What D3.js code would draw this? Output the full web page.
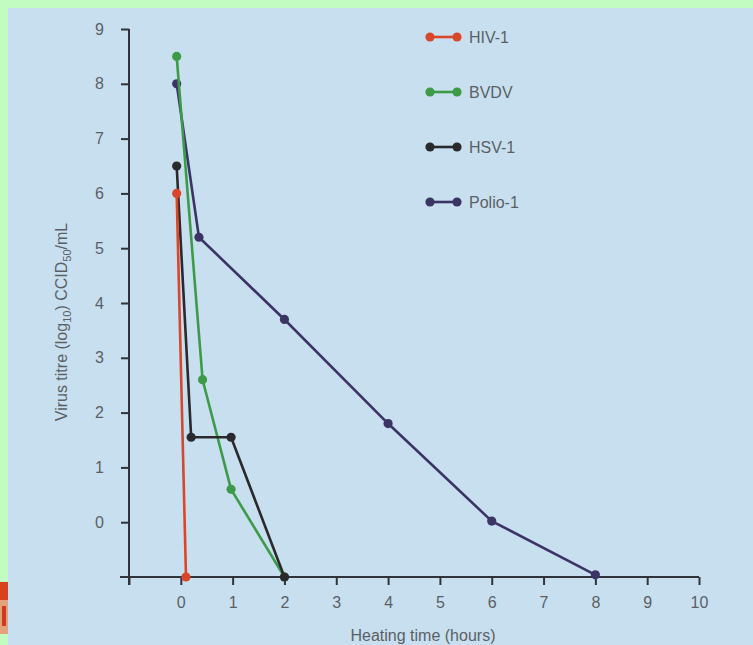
<!DOCTYPE html>
<html>
<head>
<meta charset="utf-8">
<script src="https://cdn.jsdelivr.net/npm/d3@7"></script>
<style>
  html, body { margin: 0; padding: 0; background: #c3fcc0; }
  svg { display: block; }
</style>
</head>
<body>
<div id="chart"></div>
<script>
// Virus inactivation by heating
const hivTime = [-0.08, 0.1];
const hivTitre = [6, -1];

const bvdvTime = [-0.08, 0.42, 0.97, 2];
const bvdvTitre = [8.5, 2.6, 0.6, -1];

const hsvTime = [-0.08, 0.2, 0.97, 2];
const hsvTitre = [6.5, 1.55, 1.55, -1];

const polioTime = [-0.08, 0.35, 2, 4, 6, 8];
const polioTitre = [8, 5.2, 3.7, 1.8, 0.02, -0.96];

const xTicks = [-1, 0, 1, 2, 3, 4, 5, 6, 7, 8, 9, 10];
const xTickLabels = ["", "0", "1", "2", "3", "4", "5", "6", "7", "8", "9", "10"];
const yTicks = [0, 1, 2, 3, 4, 5, 6, 7, 8, 9];

const seriesNames = ["HIV-1", "BVDV", "HSV-1", "Polio-1"];
const seriesColors = ["#d9472b", "#3d9b48", "#2a2a2c", "#3b3565"];

const width = 753;
const height = 645;

const svg = d3
  .create("svg")
  .attr("viewBox", [0, 0, width, height])
  .attr("width", width)
  .attr("height", height)
  .style("font-family", "'Liberation Sans', Arial, sans-serif");

// outer green frame + blue panel
svg.append("rect").attr("width", width).attr("height", height).attr("fill", "#c3fcc0");
svg.append("rect")
  .attr("x", 8).attr("y", 8)
  .attr("width", width - 8).attr("height", height - 8)
  .attr("fill", "#c8dff0");

// bit of a logo peeking in at the left edge
svg.append("rect").attr("x", 0).attr("y", 582).attr("width", 8).attr("height", 18).attr("fill", "#d6431c");
svg.append("rect").attr("x", 0).attr("y", 600).attr("width", 8).attr("height", 34).attr("fill", "#e3a27a");
svg.append("rect").attr("x", 2).attr("y", 606).attr("width", 4).attr("height", 20).attr("fill", "#cf3a1e");

const x = d3.scaleLinear().domain([-1, 10]).range([129, 699]);
const y = d3.scaleLinear().domain([-1, 9]).range([577, 29]);

const axisColor = "#30343a";
const textColor = "#5a5f65";

// x axis
const xAxis = svg
  .append("g")
  .attr("transform", `translate(0,${y(-1)})`)
  .call(
    d3.axisBottom(x)
      .tickValues(xTicks)
      .tickFormat((d, i) => xTickLabels[i])
      .tickSize(8)
      .tickSizeOuter(0)
      .tickPadding(12)
  );
xAxis.select(".domain").remove();
xAxis.append("line")
  .attr("x1", x(-1) - 9).attr("x2", x(10))
  .attr("stroke", axisColor).attr("stroke-width", 2);
xAxis.selectAll(".tick line").attr("stroke", axisColor).attr("stroke-width", 2);
xAxis.selectAll(".tick text")
  .attr("fill", textColor)
  .attr("font-size", 16);

// y axis
const yAxis = svg
  .append("g")
  .attr("transform", `translate(${x(-1)},0)`)
  .call(
    d3.axisLeft(y)
      .tickValues(yTicks)
      .tickSize(8)
      .tickSizeOuter(0)
      .tickPadding(17)
  );
yAxis.select(".domain").remove();
yAxis.append("line")
  .attr("y1", y(9)).attr("y2", y(-1) + 8)
  .attr("stroke", axisColor).attr("stroke-width", 2);
yAxis.selectAll(".tick line").attr("stroke", axisColor).attr("stroke-width", 2);
yAxis.selectAll(".tick text")
  .attr("fill", textColor)
  .attr("font-size", 16);

// axis titles
svg.append("text")
  .attr("x", 423)
  .attr("y", 641)
  .attr("text-anchor", "middle")
  .attr("font-size", 16)
  .attr("fill", textColor)
  .text("Heating time (hours)");

const yTitle = svg.append("text")
  .attr("transform", "translate(67,322) rotate(-90)")
  .attr("text-anchor", "middle")
  .attr("font-size", 16)
  .attr("fill", textColor);
yTitle.append("tspan").text("Virus titre (log");
yTitle.append("tspan").attr("font-size", 11).attr("dy", 4).text("10");
yTitle.append("tspan").attr("dy", -4).text(") CCID");
yTitle.append("tspan").attr("font-size", 11).attr("dy", 4).text("50");
yTitle.append("tspan").attr("dy", -4).text("/mL");

// series
const series = [
  { name: "Polio-1", t: polioTime, v: polioTitre },
  { name: "BVDV", t: bvdvTime, v: bvdvTitre },
  { name: "HSV-1", t: hsvTime, v: hsvTitre },
  { name: "HIV-1", t: hivTime, v: hivTitre }
].map((s) => ({
  ...s,
  color: seriesColors[seriesNames.indexOf(s.name)],
  points: s.t.map((t, i) => [t, s.v[i]])
}));

const line = d3.line().x((d) => x(d[0])).y((d) => y(d[1]));

series.forEach((s) => {
  const g = svg.append("g");
  g.append("path")
    .datum(s.points)
    .attr("d", line)
    .attr("fill", "none")
    .attr("stroke", s.color)
    .attr("stroke-width", 2.6)
    .attr("stroke-linejoin", "round");
  g.selectAll("circle")
    .data(s.points)
    .join("circle")
    .attr("cx", (d) => x(d[0]))
    .attr("cy", (d) => y(d[1]))
    .attr("r", 4.6)
    .attr("fill", s.color);
});

// legend
const legend = svg.append("g").attr("transform", "translate(430,37)");
const legendItem = legend
  .selectAll("g")
  .data(seriesNames)
  .join("g")
  .attr("transform", (d, i) => `translate(0,${i * 55})`);
legendItem.append("line")
  .attr("x1", 0).attr("x2", 27)
  .attr("stroke", (d, i) => seriesColors[i])
  .attr("stroke-width", 2.6);
legendItem.selectAll("circle")
  .data((d, i) => [0, 27].map((cx) => ({ cx, color: seriesColors[i] })))
  .join("circle")
  .attr("cx", (d) => d.cx)
  .attr("r", 4.6)
  .attr("fill", (d) => d.color);
legendItem.append("text")
  .attr("x", 39)
  .attr("dy", "0.35em")
  .attr("font-size", 16)
  .attr("fill", textColor)
  .text((d) => d);

d3.select("#chart").append(() => svg.node());
</script>
</body>
</html>
